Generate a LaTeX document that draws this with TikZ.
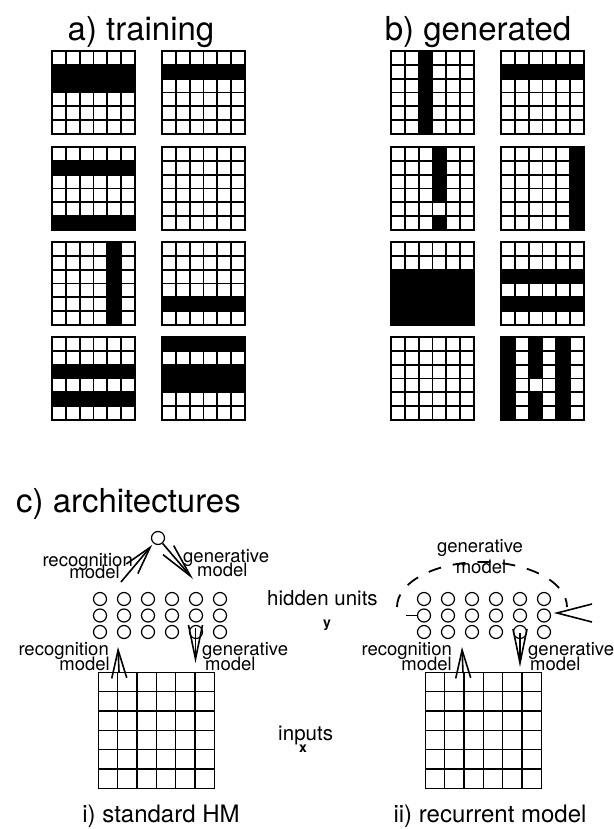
\documentclass[tikz,border=0pt]{standalone}
\usepackage{fontspec}
\setmainfont{TeX Gyre Heros}
\usetikzlibrary{arrows.meta}

\tikzset{
  gridline/.style={line width=1.8pt, line cap=rect},
  archgrid/.style={line width=1.1pt, line cap=rect},
  unit/.style={circle, draw, line width=1.2pt, minimum size=13pt, inner sep=0pt},
  title/.style={font=\fontsize{33}{40}\selectfont, inner sep=0pt},
  lbl/.style={font=\fontsize{18.5}{20}\selectfont, inner sep=0pt},
  biglbl/.style={font=\fontsize{20.5}{24}\selectfont, inner sep=0pt},
  varlbl/.style={font=\fontsize{14}{16}\selectfont\bfseries, inner sep=0pt},
  caption/.style={font=\fontsize{24}{28}\selectfont, inner sep=0pt},
  recarrow/.style={line width=1.6pt, -{Straight Barb[length=28pt, width=15pt]}},
  genarrow/.style={line width=1.6pt, -{Straight Barb[length=34pt, width=14pt]}},
  loopline/.style={line width=1.8pt, dash pattern=on 13pt off 12pt},
}

% black cells of a 6x6 pattern; #1,#2 = top-left corner, #3 = list of column/row
\newcommand\cellfill[3]{%
  \foreach \cc/\rr in {#3}{
    \fill ({#1+(\cc-1)*83/6},{#2+(\rr-1)*83/6}) rectangle ++(83/6,83/6);
  }}
% 6x6 frame of side #3 with top-left corner (#1,#2)
\newcommand\patgrid[3]{%
  \foreach \k in {0,...,6}{
    \draw ({#1+\k*#3/6},#2) -- ++(0,#3);
    \draw (#1,{#2+\k*#3/6}) -- ++(#3,0);
  }}

\begin{document}
\begin{tikzpicture}[x=1pt, y=-1pt]
\useasboundingbox (0,0) rectangle (613,829);

% ---------------- titles
\node[title, anchor=base] (ta) at (141,41) {a) training};
\node[title, anchor=base] (tb) at (478,41) {b) generated};
\node[title, anchor=base west] (tc) at (16,512) {c) architectures};

% ---------------- a) training patterns
\cellfill{52}{51}{1/2,2/2,3/2,4/2,5/2,6/2,1/3,2/3,3/3,4/3,5/3,6/3}
\cellfill{162}{51}{1/2,2/2,3/2,4/2,5/2,6/2}
\cellfill{52}{147}{1/2,2/2,3/2,4/2,5/2,6/2,1/6,2/6,3/6,4/6,5/6,6/6}
\cellfill{52}{242}{5/1,5/2,5/3,5/4,5/5,5/6}
\cellfill{162}{242}{1/5,2/5,3/5,4/5,5/5,6/5}
\cellfill{52}{337}{1/3,2/3,3/3,4/3,5/3,6/3,1/5,2/5,3/5,4/5,5/5,6/5}
\cellfill{162}{337}{1/1,2/1,3/1,4/1,5/1,6/1,1/3,2/3,3/3,4/3,5/3,6/3,1/4,2/4,3/4,4/4,5/4,6/4}
\begin{scope}[gridline]
  \foreach \gx in {52,162}{
    \foreach \gy in {51,147,242,337}{
      \patgrid{\gx}{\gy}{83}
    }}
\end{scope}

% ---------------- b) generated patterns
\cellfill{391}{51}{3/1,3/2,3/3,3/4,3/5,3/6}
\cellfill{501}{51}{1/2,2/2,3/2,4/2,5/2,6/2}
\cellfill{391}{147}{4/1,4/2,4/3,4/4,4/6}
\cellfill{501}{147}{6/1,6/2,6/3,6/4,6/5,6/6}
\cellfill{391}{242}{1/3,2/3,3/3,4/3,5/3,6/3,1/4,2/4,3/4,4/4,5/4,6/4,1/5,2/5,3/5,4/5,5/5,6/5,1/6,2/6,3/6,4/6,5/6,6/6}
\cellfill{501}{242}{1/3,2/3,3/3,4/3,5/3,6/3,1/5,2/5,3/5,4/5,5/5,6/5}
\cellfill{501}{337}{1/1,1/2,1/3,1/4,1/5,1/6,3/1,3/2,3/3,3/5,3/6,5/1,5/2,5/3,5/4,5/5,5/6}
\begin{scope}[gridline]
  \foreach \gx in {391,501}{
    \foreach \gy in {51,147,242,337}{
      \patgrid{\gx}{\gy}{83}
    }}
\end{scope}

% ---------------- c) i) standard Helmholtz machine
\node[unit] (top) at (158,538) {};
\foreach \r/\yy in {1/599,2/615.5,3/632}{
  \foreach \c in {1,...,6}{
    \node[unit] (L\r\c) at ({100+24*(\c-1)},\yy) {};
  }}
\begin{scope}[archgrid]
  \patgrid{98.3}{672.3}{116}
\end{scope}

\node[lbl, anchor=base east] (recTa) at (133,566) {recognition};
\node[lbl, anchor=base east] (recTb) at (120,578) {model};
\node[lbl, anchor=base west] (genTa) at (183,562) {generative};
\node[lbl, anchor=base west] (genTb) at (197,576) {model};
\node[biglbl, anchor=base west] (hid) at (267,605) {hidden units};
\node[varlbl, anchor=base] (yv) at (327,627) {y};
\node[biglbl, anchor=base west] (inp) at (278,740) {inputs};
\node[varlbl, anchor=base] (xv) at (303,752) {x};

\node[lbl, anchor=base east] (recBa) at (109,655) {recognition};
\node[lbl, anchor=base east] (recBb) at (110,670) {model};
\node[lbl, anchor=base west] (genBa) at (202,655) {generative};
\node[lbl, anchor=base west] (genBb) at (205,670) {model};

\coordinate (recTfoot) at (121,582);
\coordinate (genTtip) at (193,579);
\coordinate (recBfoot) at (119,672);
\coordinate (recBtip) at (118,647);
\coordinate (genBfoot) at (195.5,628);
\coordinate (genBtip) at (195.5,663);
\draw[recarrow, shorten >=2pt] (recTfoot) -- (top);
\draw[genarrow] (top) -- (genTtip);
\draw[recarrow] (recBfoot) -- (recBtip);
\draw[genarrow] (genBfoot) -- (genBtip);

% ---------------- c) ii) recurrent model
\foreach \r/\yy in {1/599,2/615.5,3/632}{
  \foreach \c in {1,...,6}{
    \node[unit] (R\r\c) at ({424+24*(\c-1)},\yy) {};
  }}
\begin{scope}[archgrid]
  \patgrid{425.3}{672.3}{116}
\end{scope}

\node[lbl, anchor=base] (genLa) at (480,552) {generative};
\node[lbl, anchor=base] (genLb) at (481,573) {model};
\node[lbl, anchor=base east] (recRa) at (452,655) {recognition};
\node[lbl, anchor=base east] (recRb) at (452,670) {model};
\node[lbl, anchor=base west] (genRa) at (528,655) {generative};
\node[lbl, anchor=base west] (genRb) at (530,670) {model};

\coordinate (loopL) at (397,607);
\coordinate (tail) at (406,615.5);
\coordinate (headA) at (592,604);
\coordinate (headT) at (557,613);
\coordinate (headB) at (592,622);
\draw[loopline] (loopL) arc[start angle=180, end angle=360, x radius=85, y radius=45];
\draw[line width=1.8pt] (tail) -- (R21);
\draw[line width=1.6pt] (headA) -- (headT) -- (headB);

\coordinate (recRfoot) at (463,673);
\coordinate (recRtip) at (462,647);
\coordinate (genRfoot) at (520,633);
\coordinate (genRtip) at (520,667);
\draw[recarrow] (recRfoot) -- (recRtip);
\draw[genarrow] (genRfoot) -- (genRtip);

% ---------------- captions
\node[caption, anchor=base] (capL) at (161,822) {i) standard HM};
\node[caption, anchor=base] (capR) at (490,822) {ii) recurrent model};
\end{tikzpicture}
\end{document}
